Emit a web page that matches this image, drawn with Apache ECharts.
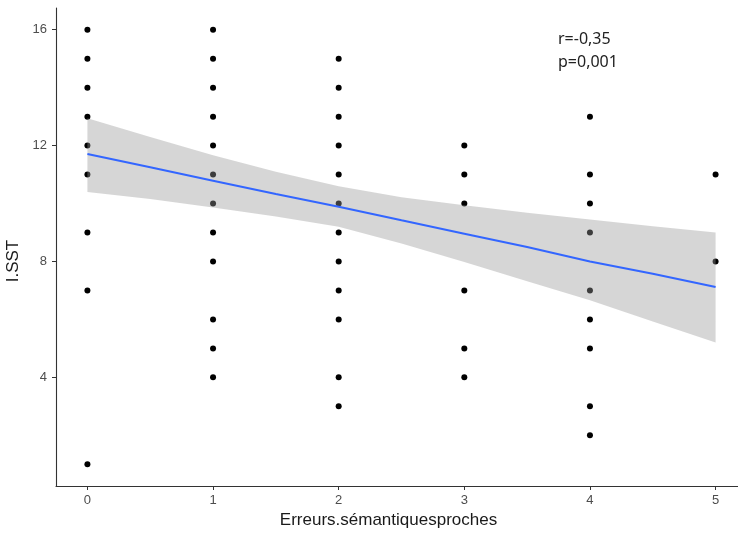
<!DOCTYPE html>
<html>
<head>
<meta charset="utf-8">
<script src="https://cdn.jsdelivr.net/npm/echarts@6/dist/echarts.min.js"></script>
<style>html,body{margin:0;padding:0;background:#fff}#c{width:738px;height:535px}</style>
</head>
<body>
<div id="c"></div>
<script>
// Scatter data: x = Erreurs.sémantiquesproches, y = I.SST
const xVals = [0,0,0,0,0,0,0,0,0,
  1,1,1,1,1,1,1,1,1,1,1,1,
  2,2,2,2,2,2,2,2,2,2,2,2,
  3,3,3,3,3,3,
  4,4,4,4,4,4,4,4,4,
  5,5];
const yVals = [16,15,14,13,12,11,9,7,1,
  16,15,14,13,12,11,10,9,8,6,5,4,
  15,14,13,12,11,10,9,8,7,6,4,3,
  12,11,10,7,5,4,
  13,11,10,9,7,6,5,3,2,
  11,8];
// Regression line and confidence band
const fitX     = [0, 0.5, 1, 1.5, 2, 2.5, 3, 3.5, 4, 4.5, 5];
const fitY     = [11.71, 11.25, 10.79, 10.33, 9.89, 9.42, 8.96, 8.5, 8.0, 7.58, 7.12];
const bandUp   = [12.94, 12.30, 11.67, 11.10, 10.60, 10.22, 9.94, 9.68, 9.45, 9.22, 9.0];
const bandLow  = [10.40, 10.16, 9.86, 9.55, 9.20, 8.62, 7.98, 7.32, 6.66, 5.93, 5.2];
const xTicks = [0,1,2,3,4,5];
const yTicks = [4,8,12,16];
const statLines = ['r=-0,35', 'p=0,001'];

const points = xVals.map((x,i)=>[x,yVals[i]]);
const fitLine = fitX.map((x,i)=>[x,fitY[i]]);

const chart = echarts.init(document.getElementById('c'), null, {renderer:'canvas'});
const axisFont = 'Liberation Sans, Arial, sans-serif';
chart.setOption({
  animation:false,
  backgroundColor:'#fff',
  grid:{left:56, top:8, width:691, height:478, containLabel:false, outerBoundsMode:'none'},
  xAxis:{
    type:'value', min:-0.25, max:5.25,
    name:'Erreurs.sémantiquesproches', nameLocation:'middle', nameGap:25,
    nameTextStyle:{fontFamily:axisFont, fontSize:17, color:'#1a1a1a', padding:[0,26,0,0]},
    axisLine:{show:true, onZero:false, lineStyle:{color:'#333', width:1.1}},
    axisTick:{show:true, length:4, lineStyle:{color:'#333'}, customValues:xTicks},
    axisLabel:{fontFamily:axisFont, fontSize:13, color:'#4d4d4d', margin:8, customValues:xTicks},
    splitLine:{show:false}
  },
  yAxis:{
    type:'value', min:0.25, max:16.75,
    name:'I.SST', nameLocation:'middle', nameGap:24,
    nameTextStyle:{fontFamily:axisFont, fontSize:17, color:'#1a1a1a', padding:[0,28,0,0]},
    axisLine:{show:true, onZero:false, lineStyle:{color:'#333', width:1.1}},
    axisTick:{show:true, length:4, lineStyle:{color:'#333'}, customValues:yTicks},
    axisLabel:{fontFamily:axisFont, fontSize:13, color:'#4d4d4d', margin:9, customValues:yTicks},
    splitLine:{show:false}
  },
  series:[
    {type:'scatter', data:points, symbol:'circle', symbolSize:6,
     itemStyle:{color:'#000', opacity:1}, z:2, silent:true},
    {type:'custom', z:3, silent:true, data:[0],
     renderItem:function(params, api){
       const pts = [];
       for (let i=0;i<fitX.length;i++) pts.push(api.coord([fitX[i], bandUp[i]]));
       for (let i=fitX.length-1;i>=0;i--) pts.push(api.coord([fitX[i], bandLow[i]]));
       return {type:'polygon', shape:{points:pts}, style:{fill:'rgba(153,153,153,0.4)', stroke:null}};
     }},
    {type:'line', data:fitLine, z:4, showSymbol:false, smooth:false,
     lineStyle:{color:'#3366FF', width:2}, silent:true}
  ],
  graphic:[
    {type:'text', left:558, top:28, style:{text:statLines.join('\n'), font:'16px "Noto Sans", sans-serif', fill:'#222', lineHeight:23}}
  ]
});
</script>
</body>
</html>
